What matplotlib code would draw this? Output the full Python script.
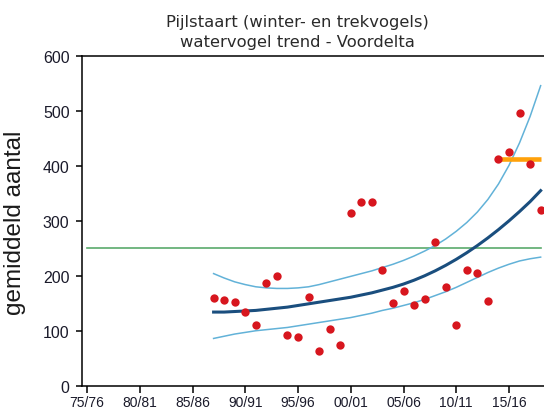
import matplotlib
matplotlib.use("Agg")
import matplotlib.pyplot as plt
from matplotlib.ticker import FixedLocator, FixedFormatter

# ---- data ----
years = list(range(1987, 2019))
counts = [159, 156, 153, 135, 111, 186, 199, 93, 89, 162, 63, 104, 74,
          314, 334, 334, 211, 150, 172, 147, 157, 262, 180, 111, 211, 205,
          154, 413, 425, 497, 404, 320]
trend = [134, 134, 135, 136, 137, 139, 141, 143, 146, 149, 152, 155, 158,
         161, 165, 169, 174, 179, 185, 192, 200, 209, 219, 230, 242, 255,
         269, 284, 300, 317, 335, 355]
upper = [204, 196, 189, 184, 180, 178, 177, 177, 178, 180, 184, 189, 194,
         199, 204, 209, 215, 221, 228, 236, 245, 255, 267, 281, 297, 316,
         339, 367, 401, 442, 490, 546]
lower = [86, 90, 94, 97, 100, 102, 104, 106, 109, 112, 115, 118, 121,
         124, 128, 132, 137, 141, 146, 151, 157, 164, 171, 179, 188, 197,
         206, 214, 221, 227, 231, 234]
ref_years = [1975, 2018]
ref_value = 250
target_years = [2014, 2018]
target_value = 412
tick_years = [1975, 1980, 1985, 1990, 1995, 2000, 2005, 2010, 2015]
tick_labels = ["75/76", "80/81", "85/86", "90/91", "95/96", "00/01",
               "05/06", "10/11", "15/16"]
yticks = [0, 100, 200, 300, 400, 500, 600]
title = "Pijlstaart (winter- en trekvogels)\nwatervogel trend - Voordelta"
ylabel = "gemiddeld aantal"

# ---- figure ----
W, H = 544, 414
fig = plt.figure(figsize=(W / 100, H / 100), dpi=100)
left_px, right_px, top_px, bottom_px = 82, 544, 57, 386.7
ax = fig.add_axes([left_px / W, (H - bottom_px) / H,
                   (right_px - left_px) / W, (bottom_px - top_px) / H])

px_per_year = 10.55
x0 = 1975 + (left_px - 87) / px_per_year
x1 = 1975 + (right_px - 87) / px_per_year
ax.set_xlim(x0, x1)
ax.set_ylim(0, 600)

ax.plot(ref_years, [ref_value, ref_value], color="#5aaa6c", lw=1.2, zorder=2)
ax.plot(years, upper, color="#62b2d8", lw=1.1, zorder=3)
ax.plot(years, lower, color="#62b2d8", lw=1.1, zorder=3)
ax.plot(years, trend, color="#1a4e7e", lw=2.2, zorder=3)
ax.plot(target_years, [target_value, target_value], color="#ffa10a",
        lw=3.3, solid_capstyle="butt", zorder=4)
ax.plot(years, counts, "o", color="#d7161e", ms=6, mec="none", zorder=5)

for s in ["left", "bottom", "top"]:
    ax.spines[s].set_linewidth(1.1)
    ax.spines[s].set_color("black")
ax.spines["right"].set_visible(False)

ax.xaxis.set_major_locator(FixedLocator(tick_years))
ax.xaxis.set_major_formatter(FixedFormatter(tick_labels))
ax.set_yticks(yticks)
ax.tick_params(axis="both", direction="out", width=1.1,
               color="black", colors="#1a1a2a")
ax.tick_params(axis="x", labelsize=10, length=4.7, pad=2)
ax.tick_params(axis="y", labelsize=11.5, length=4.5, pad=4.5)
for lab in ax.get_xticklabels() + ax.get_yticklabels():
    lab.set_fontfamily("Liberation Sans")

fig.text(15 / W, 1 - 223 / H, ylabel, rotation=90, ha="center", va="center",
         fontsize=17.5, family="Liberation Sans", color="#1a1a1a")
fig.text(297 / W, 1 - 32.5 / H, title, ha="center", va="center",
         fontsize=11.8, family="DejaVu Sans", color="#2a2a2a",
         linespacing=1.4)

fig.savefig("out.png", dpi=100)
